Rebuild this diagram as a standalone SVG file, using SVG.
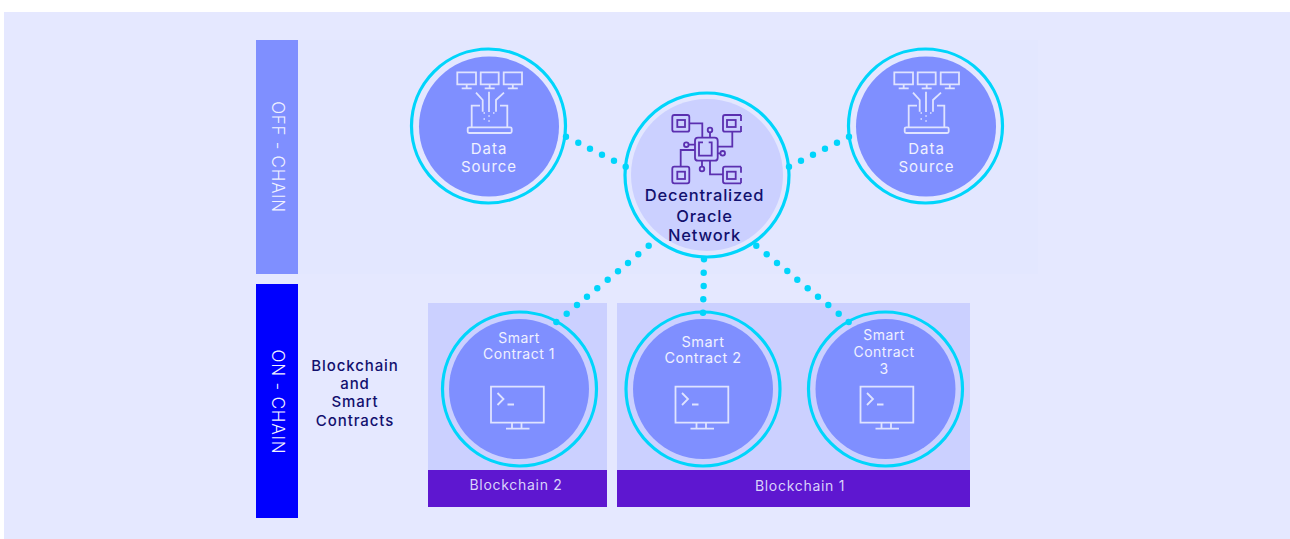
<svg xmlns="http://www.w3.org/2000/svg" xmlns:xlink="http://www.w3.org/1999/xlink" width="1290" height="539" viewBox="0 0 1290 539">
<style>
text{font-family:"Inter","Liberation Sans",sans-serif;font-size:14px;text-anchor:middle;letter-spacing:.5px}
.w{fill:#f0f1ff}.d{fill:#12106e}
.ds{font-size:15px;letter-spacing:1px}
.bc{font-size:15px;letter-spacing:.9px;font-weight:500}
.or{font-size:16.500px;letter-spacing:.8px;font-weight:500}
.ch{font-size:14px;letter-spacing:.7px;fill:#d9d2fb}
.v{font-size:17px;font-weight:300;letter-spacing:.7px}
.ring{fill:none;stroke:#00d5fb;stroke-width:3.200}
.in{fill:#7f8fff}
.ic{fill:none;stroke:#dfe3ff;stroke-width:1.800}
.chip{fill:none;stroke:#5b2fb0;stroke-width:1.800}
.dot{fill:#00d5fb}
</style>
<defs>
<g id="ds" class="ic">
<path d="M-31.700 -52.700h18.700v12h-18.700zM-22.300 -40.700v4M-27.300 -36.700h10M-8.300 -52.700h18v12h-18zM.7 -40.700v4M-4.300 -36.700h10M14.700 -52.700h18.300v12h-18.300zM23.800 -40.700v4M18.800 -36.700h10"/>
<path d="M-13 -32.300L-6.300 -25V-13.300M15 -32.300L7 -25V-13.300M0 -33.300V-13M-9 -19.300H-17.300V2.300M11 -19.300H18.300V2.300"/>
<rect x="-21.300" y="2.300" width="44" height="5.700" rx="1.500"/>
<path d="M-5.500 -12h1.500M-.7 -9h1.500M4 -12h1.500M-5.500 -6h1.500M-.7 -4h1.500" stroke-width="1.400"/>
</g>
<g id="mon" class="ic">
<path d="M-26.500 -1.300h52.800v36h-52.800zM-20 5l6 6-6 6M-10 16.500h6.500M-5.500 34.700v6M4 34.700v6M-11.500 40.700h23.500"/>
</g>
</defs>
<rect x="4" y="12" width="1286" height="527" fill="#e5e8ff"/>
<rect x="298" y="40" width="740" height="234" fill="#e3e7ff"/>
<g id="bar-off"><rect x="256" y="40" width="42" height="234" fill="#7f8fff"/><text class="w v" transform="translate(272 157) rotate(90)">OFF - CHAIN</text></g>
<g id="bar-on"><rect x="256" y="284" width="42" height="234" fill="#0000ff"/><text class="w v" transform="translate(272 402) rotate(90)" style="letter-spacing:.8px">ON - CHAIN</text></g>
<g id="label-bc"><text class="d bc" x="355" y="371">Blockchain</text><text class="d bc" x="355" y="389">and</text><text class="d bc" x="355" y="407">Smart</text><text class="d bc" x="355" y="426">Contracts</text></g>
<g id="chain-2"><rect x="428" y="303" width="179" height="167" fill="#cbd0ff"/><rect x="428" y="470" width="179" height="37" fill="#5e17d0"/><text class="ch" x="516" y="490">Blockchain 2</text></g>
<g id="chain-1"><rect x="617" y="303" width="353" height="167" fill="#cbd0ff"/><rect x="617" y="470" width="353" height="37" fill="#5e17d0"/><text class="ch" x="800" y="491">Blockchain 1</text></g>
<g id="ds-1"><circle cx="488.500" cy="126" r="77" class="ring"/><circle cx="489" cy="126.500" r="70" class="in"/><use xlink:href="#ds" x="489" y="125"/><text class="w ds" x="489" y="154">Data</text><text class="w ds" x="489" y="172">Source</text></g>
<g id="ds-2"><circle cx="925.500" cy="126" r="77" class="ring"/><circle cx="926" cy="126.500" r="70" class="in"/><use xlink:href="#ds" x="926" y="125"/><text class="w ds" x="926.500" y="154">Data</text><text class="w ds" x="926.500" y="172">Source</text></g>
<g id="oracle"><circle cx="707" cy="175" r="82" class="ring"/><circle cx="707" cy="175" r="76" fill="#cbd0ff"/>
<g class="chip">
<rect x="695" y="137.700" width="22.700" height="23" rx="3"/><path d="M703 142.300h-4v13.400h12.700v-13.400h-3"/>
<rect x="672.300" y="115" width="17" height="16.700" rx="2"/><rect x="677.300" y="120" width="7.700" height="7"/>
<path d="M741 115h-16a2 2 0 0 0-2 2v12.700a2 2 0 0 0 2 2h16M741 115v6M741 126v6"/><rect x="727" y="120" width="8.700" height="7"/>
<rect x="672.300" y="166.700" width="17" height="16.600" rx="2"/><rect x="677.300" y="171.700" width="7.700" height="7.300"/>
<path d="M741 166.700h-16a2 2 0 0 0-2 2v12.600a2 2 0 0 0 2 2h16M741 166.700v6M741 178v5.300"/><rect x="727" y="171.700" width="8.700" height="7.300"/>
<path d="M689.300 123.300h13v14.400M732.300 131.700v15h-14.600M680.700 166.700V150H695M710 160.700v13.600h13M710 137.700v-5.400M695 144.700h-6.400M717.700 153.300h2.700M702 160.700v6"/>
<circle cx="710" cy="130" r="2.300"/><circle cx="686.300" cy="144.700" r="2.300"/><circle cx="722.700" cy="153.300" r="2.300"/><circle cx="702" cy="169" r="2.300"/>
</g>
<text class="d or" x="704.500" y="201">Decentralized</text><text class="d or" x="704.500" y="222">Oracle</text><text class="d or" x="704.500" y="241">Network</text></g>
<g id="sc-1"><circle cx="519.500" cy="389" r="77" class="ring"/><circle cx="519" cy="389" r="70" class="in"/><use xlink:href="#mon" x="517.500" y="388"/><text class="w" x="519" y="343">Smart</text><text class="w" x="519" y="359">Contract 1</text></g>
<g id="sc-2"><circle cx="703" cy="389" r="77" class="ring"/><circle cx="703" cy="389" r="70" class="in"/><use xlink:href="#mon" x="702" y="388"/><text class="w" x="703" y="347" style="font-size:14.500px">Smart</text><text class="w" x="703" y="363" style="font-size:14.500px">Contract 2</text></g>
<g id="sc-3"><circle cx="885.500" cy="389" r="77" class="ring"/><circle cx="885.500" cy="389" r="70" class="in"/><use xlink:href="#mon" x="887" y="388"/><text class="w" x="884" y="340">Smart</text><text class="w" x="884" y="357">Contract</text><text class="w" x="884" y="374">3</text></g>
<g id="connectors" class="dot">
<circle cx="566" cy="136.700" r="3.200"/><circle cx="578.300" cy="142.700" r="3.200"/><circle cx="590" cy="148.700" r="3.200"/><circle cx="602" cy="154.700" r="3.200"/><circle cx="614" cy="160.700" r="3.200"/><circle cx="625.700" cy="166.700" r="3.200"/>
<circle cx="789" cy="166.700" r="3.200"/><circle cx="801" cy="160.700" r="3.200"/><circle cx="813" cy="154.700" r="3.200"/><circle cx="825" cy="148.700" r="3.200"/><circle cx="837" cy="142.700" r="3.200"/><circle cx="849" cy="136.700" r="3.200"/>
<circle cx="648.700" cy="245.700" r="3.200"/><circle cx="638.300" cy="254.300" r="3.200"/><circle cx="628" cy="263" r="3.200"/><circle cx="618" cy="271.300" r="3.200"/><circle cx="607.700" cy="279.700" r="3.200"/><circle cx="597.300" cy="288.300" r="3.200"/><circle cx="587" cy="296.700" r="3.200"/><circle cx="577" cy="305" r="3.200"/><circle cx="566.700" cy="313.700" r="3.200"/><circle cx="556.300" cy="322" r="3.200"/>
<circle cx="704" cy="259.300" r="3.200"/><circle cx="703.700" cy="272.700" r="3.200"/><circle cx="703.700" cy="286" r="3.200"/><circle cx="703.300" cy="299.300" r="3.200"/><circle cx="703" cy="312.700" r="3.200"/>
<circle cx="756.300" cy="245.700" r="3.200"/><circle cx="766.700" cy="254.300" r="3.200"/><circle cx="777" cy="263" r="3.200"/><circle cx="787.300" cy="271" r="3.200"/><circle cx="797.300" cy="279.700" r="3.200"/><circle cx="807.700" cy="288.300" r="3.200"/><circle cx="818" cy="296.700" r="3.200"/><circle cx="828.300" cy="305" r="3.200"/><circle cx="838.700" cy="313.700" r="3.200"/><circle cx="848.700" cy="322" r="3.200"/>
</g>
</svg>
